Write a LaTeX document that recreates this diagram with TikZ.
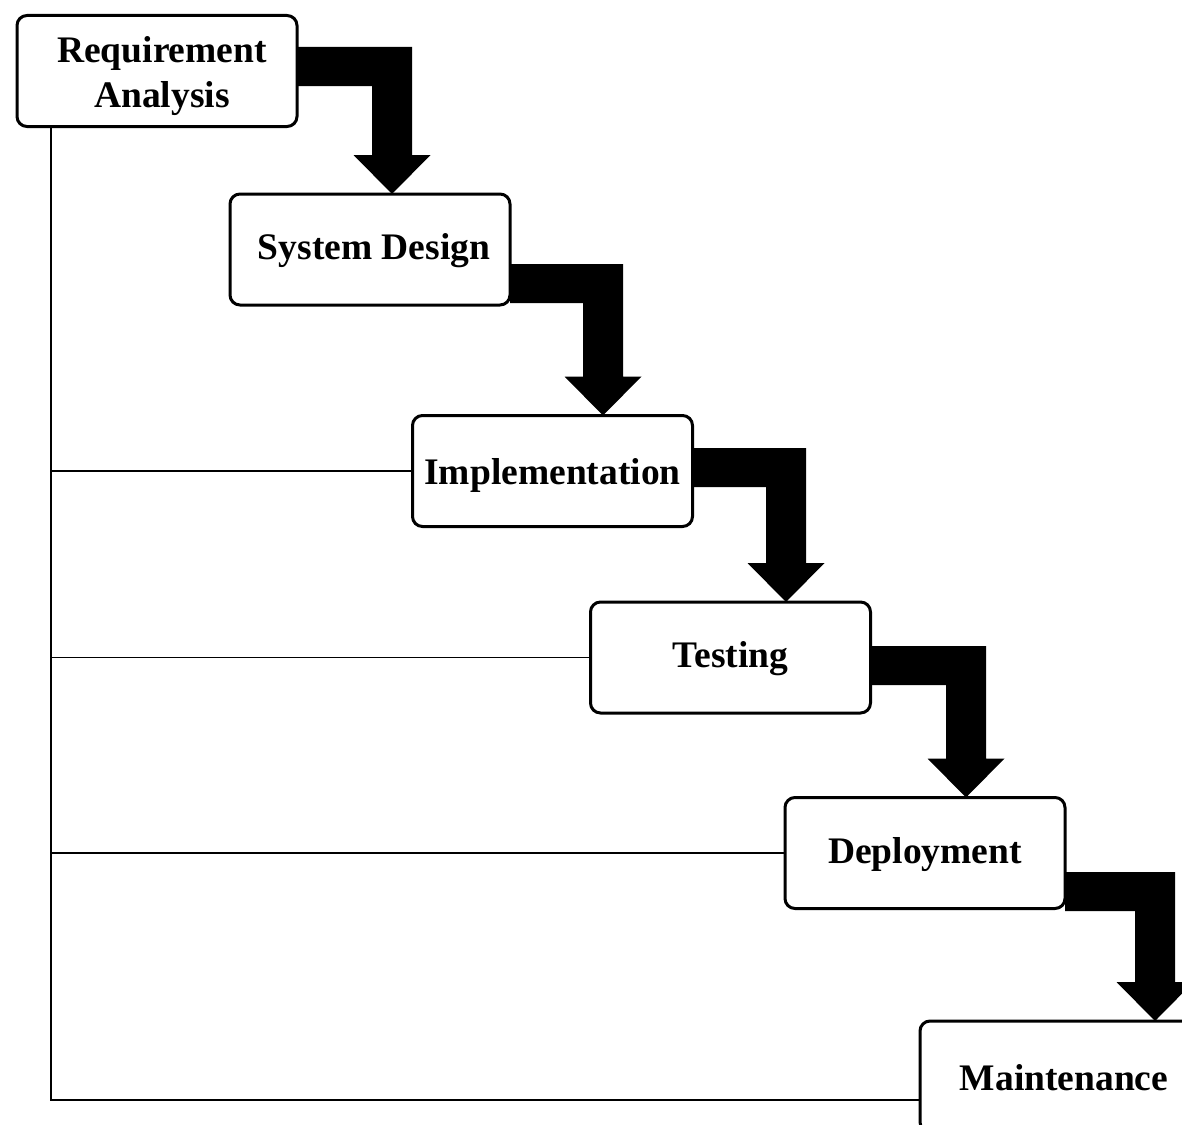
\documentclass[tikz,border=0pt]{standalone}
\usepackage{fontspec}
\setmainfont{Liberation Serif}
\usetikzlibrary{calc}
\tikzset{
  phase/.style={draw=black, line width=3pt, rounded corners=10pt, fill=white,
    minimum width=280pt, minimum height=111pt, outer sep=0pt, inner sep=0pt,
    align=center, font=\bfseries\fontsize{37.5}{45}\selectfont},
  oneline/.style={text height=28pt, text depth=8pt},
  lowline/.style={text height=35pt, text depth=8pt},
  flow/.style={fill=black},
  link/.style={draw=black, line width=1.3pt}
}
\newcommand\stepflow[4]{% from node, to node, band top y, tip x
  \coordinate (tip) at (#4,0 |- #2.north);
  \fill[flow] (#1.east |- 0,#3) -- ({#4+20},#3) -- ($(tip)+(20,-39)$)
    -- ($(tip)+(38.5,-39)$) -- (tip) -- ($(tip)+(-38.5,-39)$)
    -- ($(tip)+(-20,-39)$) -- ({#4-20},{#3+39}) -- (#1.east |- 0,{#3+39}) -- cycle;
}
\begin{document}
\begin{tikzpicture}[x=1pt,y=-1pt]
\useasboundingbox (0,0) rectangle (1182,1124);
\fill[white] (0,0) rectangle (1182,1124);
\clip (0,0) rectangle (1182,1124);
\node[phase] (req) at (157,71) {\rule{0pt}{37pt}\hspace*{10pt}Requirement\\\hspace*{10pt}Analysis};
\node[phase, oneline] (sd) at (370,249.5) {\hspace*{8pt}System Design};
\node[phase, lowline] (impl) at (552.5,471) {Implementation};
\node[phase, oneline] (test) at (730.5,657.5) {Testing};
\node[phase, oneline] (dep) at (925,853) {Deployment};
\node[phase, lowline] (maint) at (1060,1076.5) {\hspace*{8pt}Maintenance};
\stepflow{req}{sd}{47}{392}
\stepflow{sd}{impl}{264}{603}
\stepflow{impl}{test}{448}{786}
\stepflow{test}{dep}{646}{966}
\stepflow{dep}{maint}{872}{1155}
\coordinate (corner) at (51,1100);
\draw[link] (req.south -| corner) -- (corner) -- (maint.west |- corner);
\draw[link] (corner |- impl.west) -- (impl.west);
\draw[link] (corner |- test.west) -- (test.west);
\draw[link] (corner |- dep.west) -- (dep.west);
\end{tikzpicture}
\end{document}
